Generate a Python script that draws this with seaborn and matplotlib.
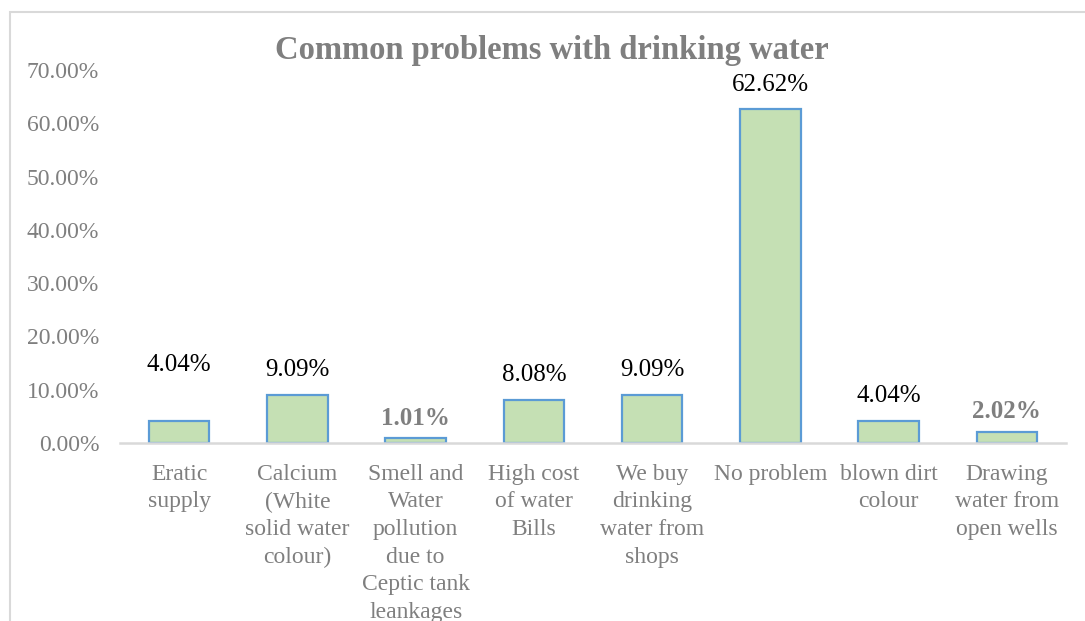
import matplotlib
matplotlib.use("Agg")
import matplotlib.pyplot as plt
from matplotlib.patches import Rectangle
from matplotlib.ticker import PercentFormatter
import seaborn as sns
import pandas as pd

categories = [
    "Eratic\nsupply",
    "Calcium\n(White\nsolid water\ncolour)",
    "Smell and\nWater\npollution\ndue to\nCeptic tank\nleankages",
    "High cost\nof water\nBills",
    "We buy\ndrinking\nwater from\nshops",
    "No problem",
    "blown dirt\ncolour",
    "Drawing\nwater from\nopen wells",
]
values = [4.04, 9.09, 1.01, 8.08, 9.09, 62.62, 4.04, 2.02]
value_labels = ["4.04%", "9.09%", "1.01%", "8.08%", "9.09%", "62.62%", "4.04%", "2.02%"]
label_bold = [False, False, True, False, False, False, False, True]
label_lift = [56, 25, 19, 25, 25, 24, 25, 21]

GRAY = "#7f7f7f"
FILL = "#c5e0b4"
EDGE = "#5b9bd5"

sns.set_style("white")
plt.rcParams["font.family"] = ["Liberation Serif", "DejaVu Serif"]

df = pd.DataFrame({"problem": categories, "share": values})

fig = plt.figure(figsize=(10.85, 6.21), dpi=100)
W, H = 1085, 621
ax = fig.add_axes([120 / W, 1 - 443 / H, (1066 - 120) / W, (443 - 70) / H])

sns.barplot(data=df, x="problem", y="share", color=FILL, edgecolor=EDGE,
            linewidth=1.6, width=0.51, saturation=1, ax=ax)

ax.set_xlim(-0.5, len(categories) - 0.5)
ax.set_ylim(0, 70)
ax.set_yticks(range(0, 71, 10))
ax.yaxis.set_major_formatter(PercentFormatter(decimals=2))
ax.set_xlabel("")
ax.set_ylabel("")

for side in ("top", "right", "left"):
    ax.spines[side].set_visible(False)
ax.spines["bottom"].set_color("#d9d9d9")
ax.spines["bottom"].set_linewidth(1.8)

ax.tick_params(axis="y", length=0, pad=15, labelsize=17, labelcolor=GRAY)
ax.tick_params(axis="x", length=0, pad=15, labelsize=17, labelcolor=GRAY)
for lab in ax.get_xticklabels():
    lab.set_linespacing(1.41)

for i, (v, txt, bold, lift) in enumerate(zip(values, value_labels, label_bold, label_lift)):
    ax.annotate(txt, xy=(i, v), xytext=(0, lift), textcoords="offset pixels",
                ha="center", va="center", fontsize=18,
                color=GRAY if bold else "black",
                fontweight="bold" if bold else "normal")

fig.text(552 / W, 1 - 51 / H, "Common problems with drinking water",
         ha="center", va="center", fontsize=23.5, fontweight="bold", color=GRAY)

fig.add_artist(Rectangle((9.5 / W, -0.1), 1.2, 1.1 - 11.5 / H,
                         transform=fig.transFigure, fill=False,
                         edgecolor="#d9d9d9", linewidth=1.5))

fig.savefig("out.png", dpi=100)
